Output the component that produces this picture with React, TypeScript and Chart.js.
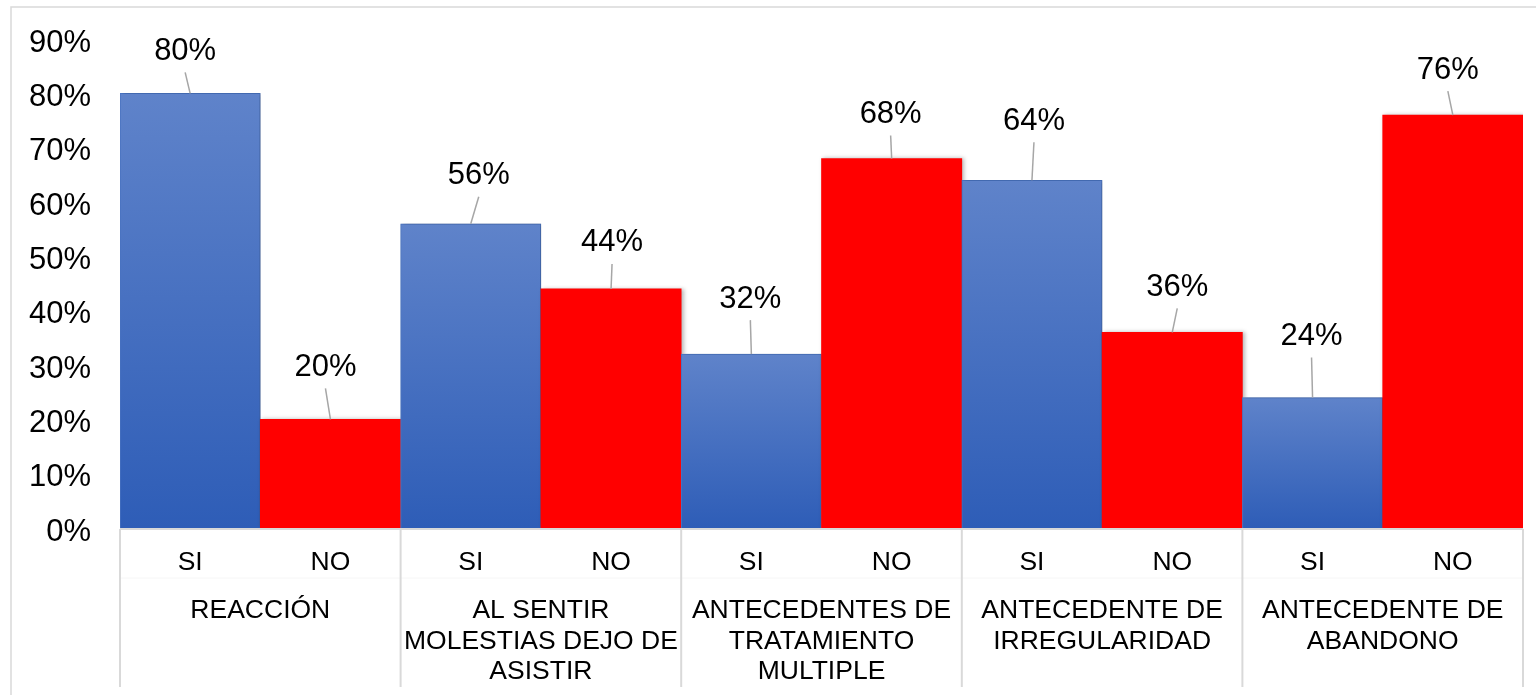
import { useEffect, useRef } from 'react';
import { Chart, registerables } from 'chart.js';

Chart.register(...registerables);

const groups: string[][] = [
  ['REACCIÓN'],
  ['AL SENTIR', 'MOLESTIAS DEJO DE', 'ASISTIR'],
  ['ANTECEDENTES DE', 'TRATAMIENTO', 'MULTIPLE'],
  ['ANTECEDENTE DE', 'IRREGULARIDAD'],
  ['ANTECEDENTE DE', 'ABANDONO'],
];
const answers = ['SI', 'NO'];
const siValues = [80, 56, 32, 64, 24];
const noValues = [20, 44, 68, 36, 76];
const yMax = 90;
const yStep = 10;

// manual data-label displacements (Excel-style moved labels with leader lines)
const labelOffsets: [number, number][] = [
  [-5, -42], [-5, -52], [8, -48], [1, -46], [-1, -55],
  [-1, -44], [2, -59], [5, -45], [-1, -61], [-5, -45],
];

const FONT = '"Liberation Sans", Arial, sans-serif';
const RED = '#ff0000';

export default function App() {
  const ref = useRef<HTMLCanvasElement>(null);

  useEffect(() => {
    document.body.style.margin = '0';
    const canvas = ref.current;
    if (!canvas) return;

    const labels = groups.flatMap(() => answers);
    const values = siValues.flatMap((v, i) => [v, noValues[i]]);

    const decor = {
      id: 'decor',
      beforeDraw(chart: any) {
        const ctx = chart.ctx;
        ctx.save();
        ctx.strokeStyle = '#d9d9d9';
        ctx.lineWidth = 1.5;
        ctx.beginPath();
        ctx.moveTo(11, 695);
        ctx.lineTo(11, 7);
        ctx.lineTo(1536, 7);
        ctx.stroke();
        ctx.restore();
      },
      beforeDatasetsDraw(chart: any) {
        const ctx = chart.ctx;
        ctx.save();
        ctx.shadowColor = 'rgba(0,0,0,0.28)';
        ctx.shadowBlur = 4;
        ctx.shadowOffsetX = 2;
        ctx.shadowOffsetY = 0;
      },
      afterDatasetsDraw(chart: any) {
        const ctx = chart.ctx;
        ctx.restore();
        const meta = chart.getDatasetMeta(0);
        const area = chart.chartArea;
        ctx.save();
        // data labels + leader lines
        meta.data.forEach((bar: any, i: number) => {
          const [dx, dy] = labelOffsets[i];
          const lx = bar.x + dx;
          const ly = bar.y + dy;
          ctx.strokeStyle = '#a6a6a6';
          ctx.lineWidth = 1.5;
          ctx.beginPath();
          ctx.moveTo(lx, ly + 21);
          ctx.lineTo(bar.x, bar.y);
          ctx.stroke();
          ctx.fillStyle = '#000';
          ctx.font = `31px ${FONT}`;
          ctx.textAlign = 'center';
          ctx.textBaseline = 'middle';
          ctx.fillText(values[i] + '%', lx, ly);
        });

        // axis line
        ctx.strokeStyle = '#d9d9d9';
        ctx.lineWidth = 2;
        ctx.beginPath();
        ctx.moveTo(area.left, area.bottom + 1);
        ctx.lineTo(area.right, area.bottom + 1);
        ctx.stroke();

        // faint line between levels
        ctx.strokeStyle = '#f6f6f6';
        ctx.lineWidth = 1;
        ctx.beginPath();
        ctx.moveTo(area.left, area.bottom + 50);
        ctx.lineTo(area.right, area.bottom + 50);
        ctx.stroke();

        // group separators
        ctx.strokeStyle = '#d9d9d9';
        ctx.lineWidth = 2;
        const half = meta.data[0].width / 2;
        const bounds: number[] = [];
        groups.forEach((_, g) => bounds.push(meta.data[g * 2].x - half));
        bounds.push(meta.data[meta.data.length - 1].x + half);
        bounds.forEach((x) => {
          ctx.beginPath();
          ctx.moveTo(x, area.bottom + 1);
          ctx.lineTo(x, 687);
          ctx.stroke();
        });

        // SI / NO labels
        ctx.fillStyle = '#000';
        ctx.textAlign = 'center';
        ctx.textBaseline = 'middle';
        ctx.font = `26.5px ${FONT}`;
        meta.data.forEach((bar: any, i: number) => {
          ctx.fillText(labels[i], bar.x, area.bottom + 35);
        });
        // group labels
        groups.forEach((lines, g) => {
          const cx = (bounds[g] + bounds[g + 1]) / 2;
          lines.forEach((t, k) => {
            ctx.fillText(t, cx, area.bottom + 83 + k * 30.5);
          });
        });
        ctx.restore();
      },
    };

    const chart = new Chart(canvas, {
      type: 'bar',
      data: {
        labels,
        datasets: [
          {
            data: values,
            categoryPercentage: 1,
            barPercentage: 1,
            borderWidth: (c: any) => (c.dataIndex % 2 === 0 ? 1 : 0),
            borderColor: '#4a76c6',
            backgroundColor: (c: any) => {
              const i = c.dataIndex;
              if (i % 2 === 1) return RED;
              const chartObj = c.chart;
              const ys = chartObj.scales?.y;
              if (!chartObj.chartArea || !ys) return '#4472c4';
              const top = ys.getPixelForValue(values[i]);
              const bottom = ys.getPixelForValue(0);
              const g = chartObj.ctx.createLinearGradient(0, top, 0, bottom);
              g.addColorStop(0, '#5f83ca');
              g.addColorStop(1, '#2e5db7');
              return g;
            },
          },
        ],
      },
      options: {
        responsive: false,
        animation: false,
        devicePixelRatio: 1,
        layout: { padding: { left: 0, right: 13, top: 39, bottom: 167 } },
        plugins: {
          legend: { display: false },
          tooltip: { enabled: false },
        },
        scales: {
          x: { display: false },
          y: {
            min: 0,
            max: yMax,
            afterFit: (s: any) => {
              s.width = 120;
              s.paddingTop = 0;
              s.paddingBottom = 0;
            },
            ticks: {
              stepSize: yStep,
              padding: 29,
              labelOffset: 4,
              color: '#000',
              font: { family: FONT, size: 31 },
              callback: (v: any) => v + '%',
            },
            grid: { display: false, drawTicks: false },
            border: { display: false },
          },
        },
      },
      plugins: [decor],
    });

    return () => chart.destroy();
  }, []);

  return (
    <div style={{ width: 1536, height: 695, position: 'relative' }}>
      <canvas ref={ref} width={1536} height={695} style={{ display: 'block' }} />
    </div>
  );
}
